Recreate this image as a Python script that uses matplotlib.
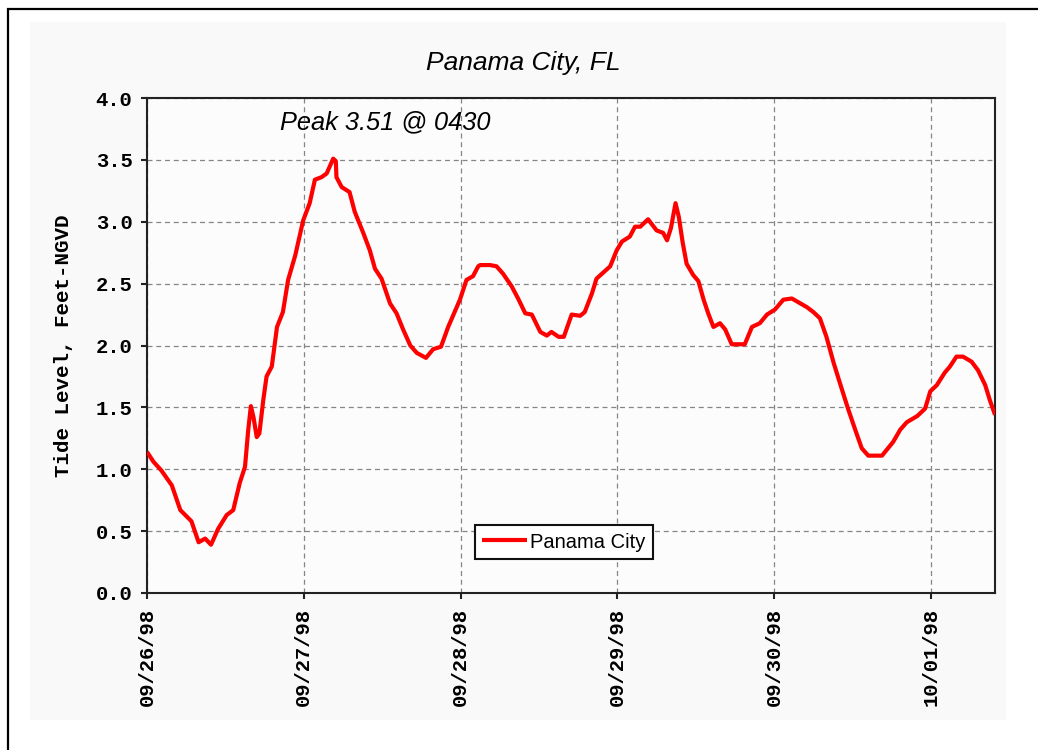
import matplotlib
matplotlib.use('Agg')
import matplotlib.pyplot as plt
import pandas as pd
from matplotlib.patches import Rectangle

# ---- data ----
start_time = '1998-09-26 00:00'
hours = [0.0, 1.0, 2.2, 3.8, 5.1, 6.8, 7.9, 8.9, 9.8, 10.9, 12.2, 13.2, 14.2, 15.0,
         15.5, 15.9, 16.3, 16.8, 17.2, 17.8, 18.3, 19.1, 19.9, 20.8, 21.6, 22.7,
         23.9, 24.9, 25.7, 26.7, 27.5, 28.5, 28.9, 29.0, 29.8, 31.0, 31.8, 33.1,
         34.1, 34.9, 35.9, 37.2, 38.2, 39.2, 40.3, 41.3, 42.7, 43.8, 45.0, 46.1,
         47.9, 48.9, 49.9, 50.7, 51.0, 52.5, 53.5, 54.5, 55.8, 56.8, 57.9, 58.9,
         60.2, 61.2, 61.9, 63.0, 63.8, 65.0, 66.3, 67.0, 68.1, 68.8, 70.9, 71.9,
         72.7, 73.9, 74.7, 75.5, 76.7, 78.0, 79.0, 79.6, 80.2, 80.9, 81.4, 82.0,
         82.6, 83.6, 84.4, 85.2, 85.9, 86.7, 87.7, 88.5, 89.5, 91.5, 92.6, 93.8,
         94.9, 96.1, 97.4, 98.7, 99.7, 101.0, 102.0, 103.0, 104.0, 105.1, 106.1,
         107.3, 108.4, 109.4, 110.4, 112.5, 114.2, 115.3, 116.3, 117.9, 119.1,
         119.9, 120.9, 122.1, 122.9, 123.9, 124.9, 126.2, 127.2, 128.3, 129.0, 129.8]
tide_ft = [1.14, 1.06, 0.99, 0.87, 0.67, 0.58, 0.41, 0.44, 0.39, 0.52, 0.63, 0.67, 0.89, 1.02,
           1.32, 1.51, 1.42, 1.26, 1.29, 1.56, 1.75, 1.83, 2.15, 2.27, 2.53, 2.73,
           3.01, 3.15, 3.34, 3.36, 3.39, 3.51, 3.49, 3.36, 3.28, 3.24, 3.08, 2.91,
           2.77, 2.62, 2.54, 2.34, 2.26, 2.13, 2.00, 1.94, 1.90, 1.97, 1.99, 2.15,
           2.37, 2.53, 2.56, 2.64, 2.65, 2.65, 2.64, 2.58, 2.48, 2.38, 2.26, 2.25,
           2.11, 2.08, 2.11, 2.07, 2.07, 2.25, 2.24, 2.27, 2.42, 2.54, 2.64, 2.77,
           2.84, 2.88, 2.96, 2.96, 3.02, 2.93, 2.91, 2.85, 2.95, 3.15, 3.04, 2.83,
           2.66, 2.57, 2.52, 2.37, 2.26, 2.15, 2.18, 2.13, 2.01, 2.01, 2.15, 2.18,
           2.25, 2.29, 2.37, 2.38, 2.35, 2.31, 2.27, 2.22, 2.07, 1.86, 1.69,
           1.49, 1.32, 1.17, 1.11, 1.11, 1.22, 1.32, 1.38, 1.43, 1.49,
           1.63, 1.68, 1.78, 1.83, 1.91, 1.91, 1.87, 1.80, 1.68, 1.56, 1.44]
tick_dates = ['1998-09-26', '1998-09-27', '1998-09-28', '1998-09-29', '1998-09-30', '1998-10-01']
tick_labels = ['09/26/98', '09/27/98', '09/28/98', '09/29/98', '09/30/98', '10/01/98']
y_ticks = [0.0, 0.5, 1.0, 1.5, 2.0, 2.5, 3.0, 3.5, 4.0]
series_name = 'Panama City'
title = 'Panama City, FL'
peak_note = 'Peak 3.51 @ 0430'
y_label = 'Tide Level, Feet-NGVD'

times = pd.Timestamp(start_time) + pd.to_timedelta(hours, unit='h')

W, H = 1038, 750
fig = plt.figure(figsize=(W / 100, H / 100), dpi=100)
fig.patch.set_facecolor('white')

panel = Rectangle((30 / W, 1 - 720 / H), (1006 - 30) / W, (720 - 22) / H,
                  transform=fig.transFigure, facecolor='#f9f9f9', edgecolor='none', zorder=-2)
fig.patches.append(panel)
border = Rectangle((8 / W, -0.05), 1.2, (H - 9) / H + 0.05, transform=fig.transFigure,
                   fill=False, edgecolor='black', lw=1.6, zorder=-1)
fig.patches.append(border)

ax = fig.add_axes([147 / W, (H - 593) / H, (995 - 147) / W, (593 - 98) / H])
ax.set_facecolor('#fcfcfc')
ax.plot(times, tide_ft, color='red', lw=3, label=series_name,
        solid_joinstyle='round', solid_capstyle='butt', zorder=3)
ax.set_xlim(times[0], times[-1])
ax.set_ylim(0, 4)
ax.set_yticks(y_ticks)
ax.set_yticklabels([f'{v:.1f}' for v in y_ticks])
ax.set_xticks(pd.to_datetime(tick_dates))
ax.set_xticklabels(tick_labels, rotation=90)

ax.set_axisbelow(True)
ax.grid(True, color='#858585', linestyle=(0, (4, 3)), lw=0.9)
for sp in ax.spines.values():
    sp.set_linewidth(1.5)
    sp.set_color('#222222')
ax.tick_params(direction='out', length=4.5, width=1.5, pad=6, colors='#222222',
               labelcolor='black', labelsize=14.8)
for lbl in ax.get_xticklabels() + ax.get_yticklabels():
    lbl.set_fontfamily('Liberation Mono')
    lbl.set_fontweight('bold')

ax.set_ylabel(y_label, fontfamily='Liberation Mono', fontweight='bold', fontsize=15)
ax.yaxis.set_label_coords(-0.087, 0.5)

fig.text(523 / W, 1 - 63 / H, title, ha='center', va='center', fontsize=19,
         style='italic', family='Liberation Sans')
fig.text(385 / W, 1 - 122 / H, peak_note, ha='center', va='center', fontsize=18.3,
         style='italic', family='Liberation Sans')

leg = ax.legend(loc='center', bbox_to_anchor=(564 / W, 1 - 542 / H), bbox_transform=fig.transFigure,
                frameon=True, fancybox=False, shadow=False,
                prop={'family': 'Liberation Sans', 'size': 14.5},
                handlelength=2.25, handletextpad=0.15, borderpad=0.35, borderaxespad=0)
fr = leg.get_frame()
fr.set_edgecolor('#111111')
fr.set_linewidth(1.5)
fr.set_facecolor('white')
fr.set_alpha(1)

fig.savefig('out.png', dpi=100)
